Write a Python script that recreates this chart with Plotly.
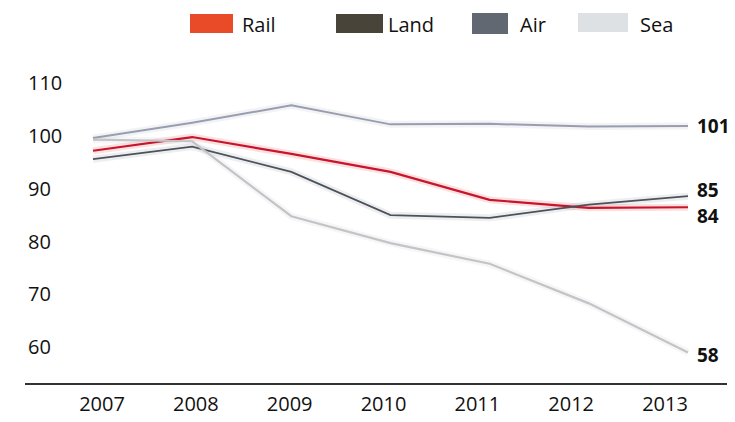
import plotly.graph_objects as go

years = [2007, 2008, 2009, 2010, 2011, 2012, 2013]
series_names = ["Rail", "Land", "Air", "Sea"]
rail = [97.2, 99.8, 96.6, 93.2, 87.9, 86.4, 86.5]
land = [95.6, 98.0, 93.2, 85.0, 84.5, 87.0, 88.6]
air = [99.6, 102.5, 105.8, 102.2, 102.3, 101.8, 101.9]
sea = [99.3, 99.0, 84.8, 79.7, 75.8, 68.3, 59.0]
end_labels = ["84", "85", "101", "58"]
y_ticks = [60, 70, 80, 90, 100, 110]

values = [rail, land, air, sea]
line_colors = ["#c8152e", "#4c525b", "#9a9daf", "#c3c4c7"]
glow_colors = ["rgba(235,70,70,0.16)", "rgba(80,90,100,0.10)",
               "rgba(150,155,175,0.12)", "rgba(190,192,196,0.14)"]
line_widths = [2.2, 1.8, 2.0, 2.2]
swatch_colors = ["#e8411e", "#3e3a2f", "#596069", "#dcdfe3"]
label_shift = [-9, 6, 0, -3]

# layout geometry (figure pixels; page has an 8px body margin)
W, H = 727, 414
ML, MR, MT, MB = 17, 8, 52, 39
PW, PH = W - ML - MR, H - MT - MB
legend_x = [179, 325, 457, 577]
swatch_boxes = [(182, 225, 6, 25), (328, 375, 6, 25), (464, 500, 5, 26), (570, 620, 5, 24)]

FONT = "Open Sans, Lato, DejaVu Sans, sans-serif"

def px_to_paper_x(fx):
    return (fx - ML) / PW

def px_to_paper_y(fy):
    return (H - MB - fy) / PH

fig = go.Figure()

for i, name in enumerate(series_names):
    fig.add_trace(go.Scatter(
        x=years, y=values[i], mode="lines",
        line=dict(color=glow_colors[i], width=7),
        showlegend=False, hoverinfo="skip"))
for i, name in enumerate(series_names):
    fig.add_trace(go.Scatter(
        x=years, y=values[i], mode="lines", name=name,
        line=dict(color=line_colors[i], width=line_widths[i]),
        showlegend=False))

# legend-only entries (swatch itself drawn as a brush-like box)
for i, name in enumerate(series_names):
    lg = "legend" if i == 0 else f"legend{i+1}"
    fig.add_trace(go.Scatter(
        x=[None], y=[None], mode="lines", name=name,
        line=dict(color="rgba(0,0,0,0)", width=1),
        legend=lg, showlegend=True))

for i in range(4):
    x0, x1, y0, y1 = swatch_boxes[i]
    fig.add_shape(type="rect", xref="paper", yref="paper",
                  x0=px_to_paper_x(x0), x1=px_to_paper_x(x1),
                  y0=px_to_paper_y(y1), y1=px_to_paper_y(y0),
                  fillcolor=swatch_colors[i], line=dict(width=0), opacity=0.95)

# invisible trace carrying the year tick axis
fig.add_trace(go.Scatter(x=years, y=[None] * len(years), xaxis="x2",
                         mode="lines", showlegend=False, hoverinfo="skip"))

for i, name in enumerate(series_names):
    fig.add_annotation(
        x=years[-1], y=values[i][-1], text=f"<b>{end_labels[i]}</b>",
        showarrow=False, xanchor="left", yanchor="middle",
        xshift=7, yshift=label_shift[i],
        font=dict(family=FONT, size=19, color="#111111"))

legends = {}
for i in range(4):
    key = "legend" if i == 0 else f"legend{i+1}"
    legends[key] = dict(
        x=legend_x[i] / W, y=1 - 16 / H, xref="container", yref="container",
        xanchor="left", yanchor="middle", orientation="h",
        bgcolor="rgba(0,0,0,0)", borderwidth=0, itemwidth=45,
        font=dict(family=FONT, size=20, color="#111111"))

fig.update_layout(
    width=W, height=H,
    margin=dict(l=ML, r=MR, t=MT, b=MB, autoexpand=False),
    paper_bgcolor="white", plot_bgcolor="white",
    font=dict(family=FONT, size=20, color="#111111"),
    xaxis=dict(range=[2006.3143, 2013.3933], showticklabels=False,
               showgrid=False, zeroline=False, showline=True,
               linecolor="#333333", linewidth=1.5, ticks=""),
    xaxis2=dict(range=[2006.1794, 2013.6608], overlaying="x", anchor="y",
                side="bottom", tickvals=years, ticktext=[str(y) for y in years],
                showgrid=False, zeroline=False, showline=False, ticks="",
                ticklabelstandoff=7,
                tickfont=dict(family=FONT, size=20, color="#111111")),
    yaxis=dict(range=[53.22, 114.39], tickvals=y_ticks,
               ticklabelposition="inside", showgrid=False, zeroline=False,
               showline=False, ticks="",
               tickfont=dict(family=FONT, size=20, color="#111111")),
    hovermode=False,
    **legends,
)

fig.write_html("out.html")
